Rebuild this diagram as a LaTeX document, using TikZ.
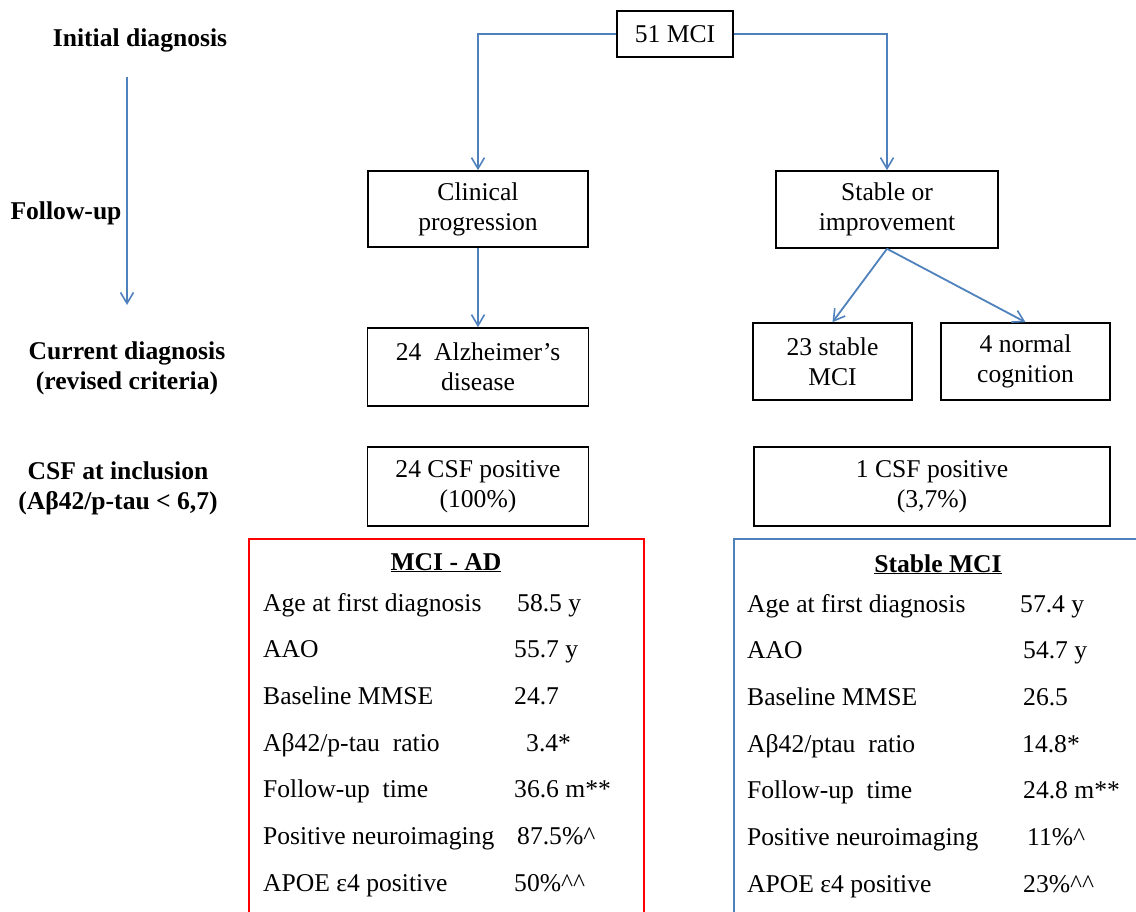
\documentclass[tikz,border=0pt]{standalone}
\usepackage{fontspec}
\setmainfont{Liberation Serif}
\usetikzlibrary{arrows.meta,positioning}
\definecolor{flow}{HTML}{4F81BD}
\definecolor{adred}{HTML}{FF0000}
\newcommand{\basefont}{\fontsize{25.6}{30}\selectfont}
\tikzset{
  box/.style={rectangle, draw=black, line width=1.6pt, align=center, inner sep=2pt},
  stage/.style={font=\basefont\bfseries, align=center},
  fl/.style={-{Straight Barb[length=11pt,width=13pt,line width=1.6pt]}, draw=flow, line width=1.8pt},
  panel/.style={rectangle, line width=1.8pt, anchor=north west, inner sep=0pt},
  cell/.style={anchor=base west, inner sep=0pt}
}

\begin{document}
\begin{tikzpicture}[x=1pt,y=-1pt,font=\basefont]
  \useasboundingbox (0,0) rectangle (1136,912);
  \clip (0,0) rectangle (1136,912);
  % stage labels
  \node[stage] (lInit) at (140,40) {Initial diagnosis};
  \node[stage] (lFol) at (66,213) {Follow-up};
  \node[stage] (lCur) at (127,368) {Current diagnosis\\(revised criteria)};
  \node[stage] (lCsf) at (118,488) {CSF at inclusion\\(Aβ42/p-tau < 6,7)};
  \coordinate (tTop) at (127,77);
  \coordinate (tBot) at (127,305);
  \draw[fl] (tTop) -- (tBot);
  % flow boxes
  \node[box, minimum width=116pt, minimum height=46pt] (mci) at (675,34) {51 MCI};
  \node[box, minimum width=220pt, minimum height=76pt] (clin) at (478,209) {Clinical\\progression};
  \node[box, minimum width=222pt, minimum height=77pt] (stab) at (887,209.5) {Stable or\\improvement};
  \node[box, minimum width=221pt, minimum height=78pt] (ad) at (478,367) {24\ \ Alzheimer’s\\disease};
  \node[box, minimum width=159pt, minimum height=77pt] (smci) at (832.5,361.5) {23 stable\\MCI};
  \node[box, minimum width=169pt, minimum height=77pt] (norm) at (1025.5,361.5) {4 normal\\cognition};
  \node[box, minimum width=221pt, minimum height=79pt] (csfA) at (478,486.5) {24 CSF positive\\(100\%)};
  \node[box, minimum width=356pt, minimum height=79pt] (csfB) at (932,486.5) {1 CSF positive\\(3,7\%)};
  \draw[fl] (mci.west) -| (clin.north);
  \draw[fl] (mci.east) -| (stab.north);
  \draw[fl] (clin.south) -- (ad.north);
  \foreach \b in {smci,norm} \draw[fl] (stab.south) -- (\b.north);
  % summary panels
  \node[panel, draw=adred, minimum width=395pt, minimum height=400pt] (adPanel) at (248,538) {};
  \node[panel, draw=flow, minimum width=410pt, minimum height=400pt] (sPanel) at (733,538) {};
  \node[anchor=base] (adTitle) at (446,570) {\textbf{\underline{MCI - AD}}};
  \node[anchor=base] (sTitle) at (938,572) {\textbf{\underline{Stable MCI}}};
  \foreach \lab/\val/\vx [count=\i from 0] in {Age at first diagnosis/58.5 y/517, AAO/55.7 y/514,
      Baseline MMSE/24.7/514, {Aβ42/p-tau\ \ ratio}/3.4*/526, Follow-up\ \ time/36.6 m**/514,
      Positive neuroimaging/87.5\%\textasciicircum/517, APOE ε4 positive/50\%\textasciicircum\textasciicircum/514} {
    \node[cell] (adL\i) at (263,{611+46.7*\i}) {\lab};
    \node[cell] (adV\i) at (\vx,{611+46.7*\i}) {\val};
  }
  \foreach \lab/\val/\vx [count=\i from 0] in {Age at first diagnosis/57.4 y/1020, AAO/54.7 y/1023,
      Baseline MMSE/26.5/1023, {Aβ42/ptau\ \ ratio}/14.8*/1022, Follow-up\ \ time/24.8 m**/1023,
      Positive neuroimaging/11\%\textasciicircum/1027, APOE ε4 positive/23\%\textasciicircum\textasciicircum/1023} {
    \node[cell] (sL\i) at (747,{612+46.7*\i}) {\lab};
    \node[cell] (sV\i) at (\vx,{612+46.7*\i}) {\val};
  }
\end{tikzpicture}
\end{document}
